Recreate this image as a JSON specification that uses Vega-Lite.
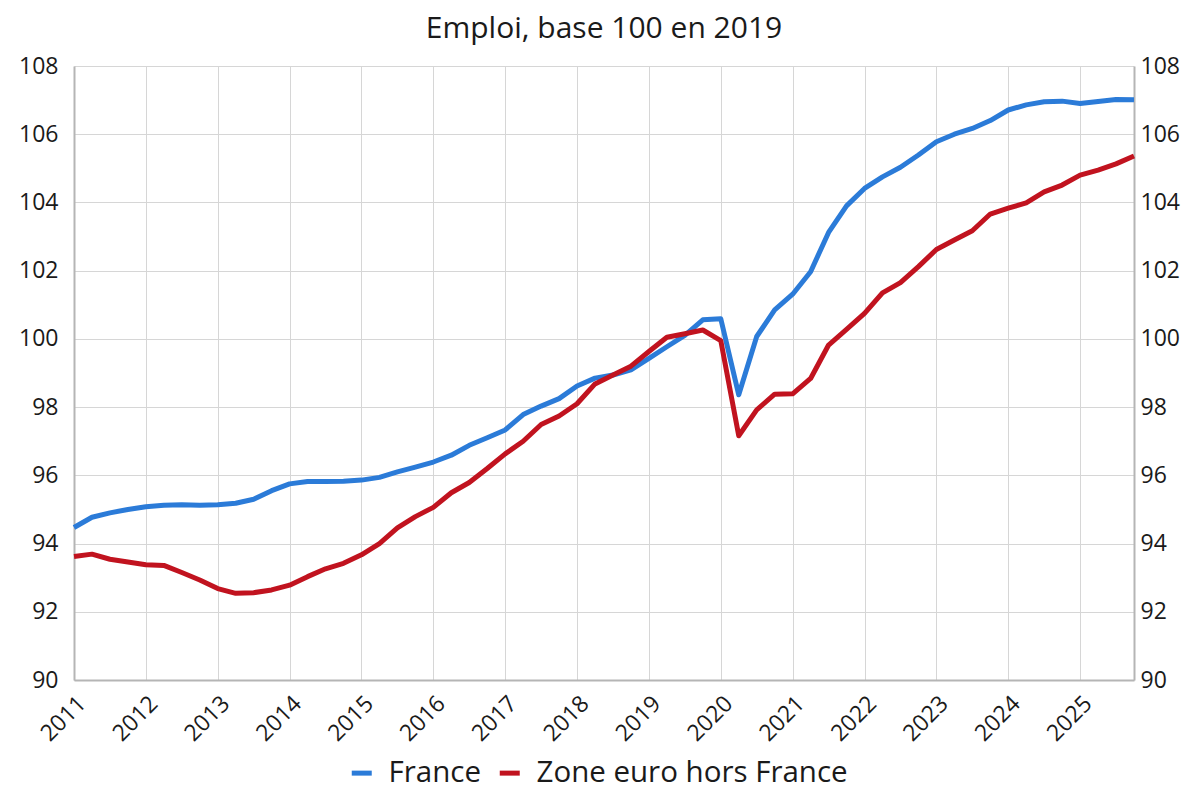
{
  "$schema": "https://vega.github.io/schema/vega-lite/v6.json",
  "autosize": "none",
  "width": 1060,
  "height": 614,
  "padding": {"left": 74, "top": 66, "right": 48, "bottom": 110},
  "background": "white",
  "config": {
    "font": "Open Sans",
    "view": {"stroke": null},
    "axis": {"labelFont": "Open Sans", "labelColor": "#1a1a1a", "labelFontSize": 23, "gridColor": "#d6d6d6", "gridWidth": 1, "domainColor": "#b5b5b5", "domainWidth": 2, "ticks": false, "title": null}
  },
  "title": {"text": "Emploi, base 100 en 2019", "fontSize": 30, "font": "Open Sans", "fontWeight": "normal", "color": "#1a1a1a", "anchor": "middle", "offset": 11},
  "data": {"values": [
    {"t":2011.00,"s":"France","v":94.47},{"t":2011.25,"s":"France","v":94.77},{"t":2011.50,"s":"France","v":94.90},{"t":2011.75,"s":"France","v":95.00},
    {"t":2012.00,"s":"France","v":95.08},{"t":2012.25,"s":"France","v":95.12},{"t":2012.50,"s":"France","v":95.14},{"t":2012.75,"s":"France","v":95.12},
    {"t":2013.00,"s":"France","v":95.14},{"t":2013.25,"s":"France","v":95.18},{"t":2013.50,"s":"France","v":95.30},{"t":2013.75,"s":"France","v":95.55},
    {"t":2014.00,"s":"France","v":95.75},{"t":2014.25,"s":"France","v":95.82},{"t":2014.50,"s":"France","v":95.82},{"t":2014.75,"s":"France","v":95.83},
    {"t":2015.00,"s":"France","v":95.86},{"t":2015.25,"s":"France","v":95.94},{"t":2015.50,"s":"France","v":96.10},{"t":2015.75,"s":"France","v":96.24},
    {"t":2016.00,"s":"France","v":96.39},{"t":2016.25,"s":"France","v":96.59},{"t":2016.50,"s":"France","v":96.88},{"t":2016.75,"s":"France","v":97.10},
    {"t":2017.00,"s":"France","v":97.33},{"t":2017.25,"s":"France","v":97.78},{"t":2017.50,"s":"France","v":98.03},{"t":2017.75,"s":"France","v":98.25},
    {"t":2018.00,"s":"France","v":98.62},{"t":2018.25,"s":"France","v":98.85},{"t":2018.50,"s":"France","v":98.94},{"t":2018.75,"s":"France","v":99.09},
    {"t":2019.00,"s":"France","v":99.43},{"t":2019.25,"s":"France","v":99.77},{"t":2019.50,"s":"France","v":100.10},{"t":2019.75,"s":"France","v":100.56},
    {"t":2020.00,"s":"France","v":100.59},{"t":2020.25,"s":"France","v":98.36},{"t":2020.50,"s":"France","v":100.07},{"t":2020.75,"s":"France","v":100.85},
    {"t":2021.00,"s":"France","v":101.31},{"t":2021.25,"s":"France","v":101.97},{"t":2021.50,"s":"France","v":103.12},{"t":2021.75,"s":"France","v":103.90},
    {"t":2022.00,"s":"France","v":104.41},{"t":2022.25,"s":"France","v":104.75},{"t":2022.50,"s":"France","v":105.03},{"t":2022.75,"s":"France","v":105.39},
    {"t":2023.00,"s":"France","v":105.78},{"t":2023.25,"s":"France","v":106.00},{"t":2023.50,"s":"France","v":106.17},{"t":2023.75,"s":"France","v":106.40},
    {"t":2024.00,"s":"France","v":106.71},{"t":2024.25,"s":"France","v":106.86},{"t":2024.50,"s":"France","v":106.95},{"t":2024.75,"s":"France","v":106.97},
    {"t":2025.00,"s":"France","v":106.90},{"t":2025.25,"s":"France","v":106.96},{"t":2025.50,"s":"France","v":107.02},{"t":2025.75,"s":"France","v":107.01},
    {"t":2011.00,"s":"Zone euro hors France","v":93.62},{"t":2011.25,"s":"Zone euro hors France","v":93.69},{"t":2011.50,"s":"Zone euro hors France","v":93.54},{"t":2011.75,"s":"Zone euro hors France","v":93.46},
    {"t":2012.00,"s":"Zone euro hors France","v":93.38},{"t":2012.25,"s":"Zone euro hors France","v":93.36},{"t":2012.50,"s":"Zone euro hors France","v":93.15},{"t":2012.75,"s":"Zone euro hors France","v":92.93},
    {"t":2013.00,"s":"Zone euro hors France","v":92.68},{"t":2013.25,"s":"Zone euro hors France","v":92.54},{"t":2013.50,"s":"Zone euro hors France","v":92.56},{"t":2013.75,"s":"Zone euro hors France","v":92.64},
    {"t":2014.00,"s":"Zone euro hors France","v":92.78},{"t":2014.25,"s":"Zone euro hors France","v":93.03},{"t":2014.50,"s":"Zone euro hors France","v":93.26},{"t":2014.75,"s":"Zone euro hors France","v":93.42},
    {"t":2015.00,"s":"Zone euro hors France","v":93.67},{"t":2015.25,"s":"Zone euro hors France","v":94.00},{"t":2015.50,"s":"Zone euro hors France","v":94.46},{"t":2015.75,"s":"Zone euro hors France","v":94.79},
    {"t":2016.00,"s":"Zone euro hors France","v":95.06},{"t":2016.25,"s":"Zone euro hors France","v":95.49},{"t":2016.50,"s":"Zone euro hors France","v":95.79},{"t":2016.75,"s":"Zone euro hors France","v":96.20},
    {"t":2017.00,"s":"Zone euro hors France","v":96.63},{"t":2017.25,"s":"Zone euro hors France","v":97.00},{"t":2017.50,"s":"Zone euro hors France","v":97.49},{"t":2017.75,"s":"Zone euro hors France","v":97.74},
    {"t":2018.00,"s":"Zone euro hors France","v":98.10},{"t":2018.25,"s":"Zone euro hors France","v":98.68},{"t":2018.50,"s":"Zone euro hors France","v":98.94},{"t":2018.75,"s":"Zone euro hors France","v":99.20},
    {"t":2019.00,"s":"Zone euro hors France","v":99.63},{"t":2019.25,"s":"Zone euro hors France","v":100.05},{"t":2019.50,"s":"Zone euro hors France","v":100.15},{"t":2019.75,"s":"Zone euro hors France","v":100.26},
    {"t":2020.00,"s":"Zone euro hors France","v":99.95},{"t":2020.25,"s":"Zone euro hors France","v":97.16},{"t":2020.50,"s":"Zone euro hors France","v":97.92},{"t":2020.75,"s":"Zone euro hors France","v":98.38},
    {"t":2021.00,"s":"Zone euro hors France","v":98.39},{"t":2021.25,"s":"Zone euro hors France","v":98.84},{"t":2021.50,"s":"Zone euro hors France","v":99.82},{"t":2021.75,"s":"Zone euro hors France","v":100.28},
    {"t":2022.00,"s":"Zone euro hors France","v":100.75},{"t":2022.25,"s":"Zone euro hors France","v":101.35},{"t":2022.50,"s":"Zone euro hors France","v":101.65},{"t":2022.75,"s":"Zone euro hors France","v":102.12},
    {"t":2023.00,"s":"Zone euro hors France","v":102.62},{"t":2023.25,"s":"Zone euro hors France","v":102.90},{"t":2023.50,"s":"Zone euro hors France","v":103.17},{"t":2023.75,"s":"Zone euro hors France","v":103.66},
    {"t":2024.00,"s":"Zone euro hors France","v":103.83},{"t":2024.25,"s":"Zone euro hors France","v":103.99},{"t":2024.50,"s":"Zone euro hors France","v":104.31},{"t":2024.75,"s":"Zone euro hors France","v":104.51},
    {"t":2025.00,"s":"Zone euro hors France","v":104.80},{"t":2025.25,"s":"Zone euro hors France","v":104.95},{"t":2025.50,"s":"Zone euro hors France","v":105.13},{"t":2025.75,"s":"Zone euro hors France","v":105.36}
  ]},
  "resolve": {"axis": {"y": "independent"}},
  "layer": [
    {
      "mark": {"type": "line", "strokeWidth": 5, "strokeJoin": "round", "strokeCap": "butt"},
      "encoding": {
        "x": {"field": "t", "type": "quantitative", "scale": {"domain": [2011, 2025.75], "nice": false, "zero": false},
              "axis": {"values": [2011,2012,2013,2014,2015,2016,2017,2018,2019,2020,2021,2022,2023,2024,2025], "format": "d", "labelAngle": -45, "labelAlign": "right", "labelBaseline": "top", "labelPadding": 12, "labelFlush": false, "labelOverlap": false}},
        "y": {"field": "v", "type": "quantitative", "scale": {"domain": [90, 108], "nice": false, "zero": false},
              "axis": {"orient": "left", "values": [90,92,94,96,98,100,102,104,106,108], "labelPadding": 16, "labelFlush": false}},
        "color": {"field": "s", "type": "nominal",
                  "scale": {"domain": ["France", "Zone euro hors France"], "range": ["#2b7bd8", "#c1131f"]},
                  "legend": {"title": null, "orient": "none", "legendX": 273, "legendY": 692, "direction": "horizontal",
                             "symbolType": "stroke", "symbolStrokeWidth": 5, "symbolSize": 400, "labelFontSize": 29.5, "labelFont": "Open Sans", "labelColor": "#1a1a1a", "labelOffset": 12, "columnPadding": 8, "labelLimit": 600}}
      }
    },
    {
      "mark": {"type": "line", "strokeOpacity": 0},
      "encoding": {
        "x": {"field": "t", "type": "quantitative"},
        "y": {"field": "v", "type": "quantitative",
              "axis": {"orient": "right", "grid": false, "values": [90,92,94,96,98,100,102,104,106,108], "labelPadding": 6, "labelFlush": false}},
        "detail": {"field": "s", "type": "nominal"}
      }
    }
  ]
}
